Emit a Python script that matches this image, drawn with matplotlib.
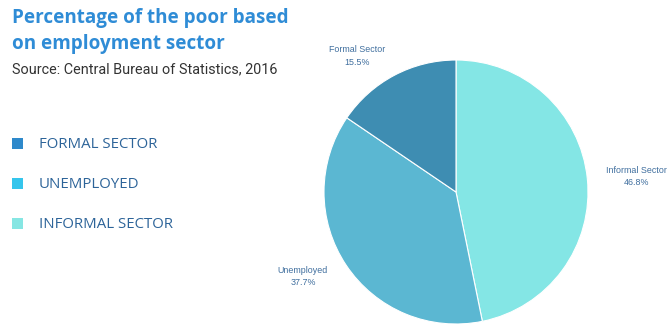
import matplotlib
matplotlib.use("Agg")
import matplotlib.pyplot as plt
from matplotlib.patches import Rectangle

# Data
categories = ["Informal Sector", "Unemployed", "Formal Sector"]
values = [46.8, 37.7, 15.5]
pie_colors = ["#84E6E5", "#5BB7D2", "#3E8DB2"]
legend_labels = ["FORMAL SECTOR", "UNEMPLOYED", "INFORMAL SECTOR"]
legend_colors = ["#2E89CB", "#35C5EC", "#86E6E3"]
title_lines = ["Percentage of the poor based", "on employment sector"]
source = "Source: Central Bureau of Statistics, 2016"

W, H = 668, 325
fig = plt.figure(figsize=(W / 100, H / 100), dpi=100)
fig.patch.set_facecolor("white")

# pie axes
cx, cy, r = 456, 192, 132
ax = fig.add_axes([(cx - r) / W, (H - cy - r) / H, 2 * r / W, 2 * r / H])
ax.pie(values, colors=pie_colors, startangle=90, counterclock=False,
       radius=1, wedgeprops=dict(linewidth=0.8, edgecolor="white"))
ax.set_xlim(-1, 1)
ax.set_ylim(-1, 1)
ax.set_aspect("equal")
ax.axis("off")

label_pos = {"Informal Sector": (1.37, 0.115),
             "Unemployed": (-1.16, -0.64),
             "Formal Sector": (-0.75, 1.03)}
for c, v in zip(categories, values):
    x, y = label_pos[c]
    ax.text(x, y, f"{c}\n{v}%", ha="center", va="center", fontsize=6.4,
            color="#3F6E9E", family="Liberation Sans", linespacing=1.45,
            clip_on=False)

# title
for line, y in zip(title_lines, [18.5, 44.5]):
    fig.text(12 / W, 1 - y / H, line, ha="left",
             va="center", fontsize=13.6, fontweight="bold", color="#2F8CD6",
             family="Open Sans")
fig.text(12 / W, 1 - 69 / H, source, ha="left", va="center", fontsize=10.4,
         color="#333333", family="Roboto")

# legend
ys = [143, 183, 223]
for lab, col, y in zip(legend_labels, legend_colors, ys):
    fig.patches.append(Rectangle((12 / W, 1 - (y + 5.5) / H), 11 / W, 11 / H,
                                 transform=fig.transFigure, facecolor=col,
                                 edgecolor="none"))
    fig.text(39 / W, 1 - (y + 2) / H, lab,
             ha="left", va="center", fontsize=10.8, color="#2D6499",
             family="Open Sans")

fig.savefig("out.png", dpi=100)
